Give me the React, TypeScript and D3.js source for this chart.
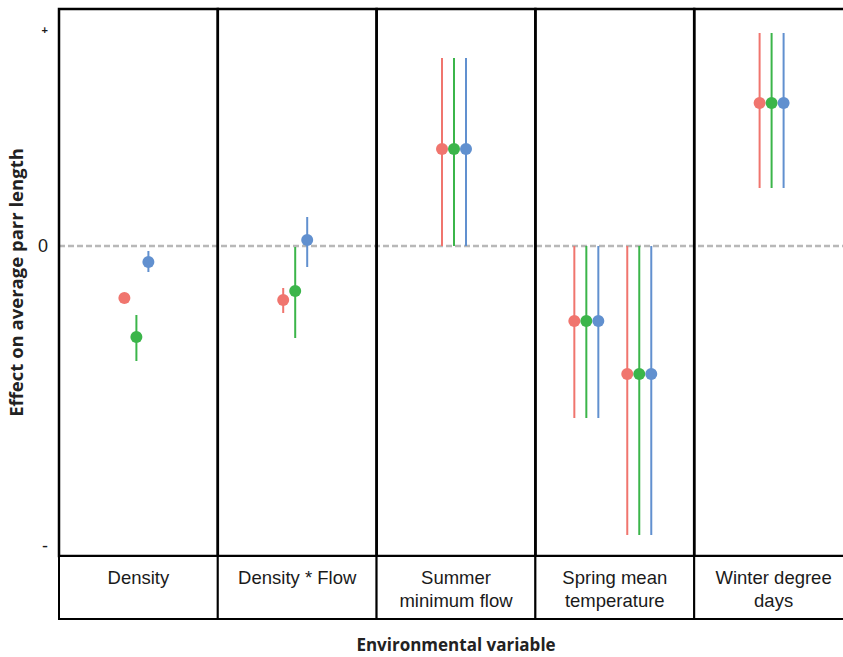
import * as d3 from 'd3';
import {useEffect, useRef} from "react";

// facets (strip labels) and the terms drawn in them
const panels = ["Density", "Density * Flow", "Summer\nminimum flow", "Spring mean\ntemperature", "Winter degree\ndays"];
const terms = ["Density", "Density * Flow", "Summer minimum flow", "Spring mean temperature (a)", "Spring mean temperature (b)", "Winter degree days"];
const termPanel = [0, 1, 2, 3, 3, 4];

const seriesNames = ["A", "B", "C"];
const seriesColors = ["#F0756E", "#3BB54A", "#6190CF"];

// estimates with lower / upper bounds, one value per term
const estA = [-0.52, -0.54, 0.97, -0.75, -1.28, 1.43];
const lowA = [-0.55, -0.67, 0.0, -1.72, -2.89, 0.58];
const uppA = [-0.49, -0.42, 1.88, 0.0, 0.0, 2.13];

const estB = [-0.91, -0.45, 0.97, -0.75, -1.28, 1.43];
const lowB = [-1.15, -0.92, 0.0, -1.72, -2.89, 0.58];
const uppB = [-0.69, -0.01, 1.88, 0.0, 0.0, 2.13];

const estC = [-0.16, 0.06, 0.97, -0.75, -1.28, 1.43];
const lowC = [-0.26, -0.21, 0.0, -1.72, -2.89, 0.58];
const uppC = [-0.05, 0.29, 1.88, 0.0, 0.0, 2.13];

const yTickValues = [2.15, 0, -3.0];
const yTickLabels = ["+", "0", "-"];

export default function App() {
    const svgRef = useRef<SVGSVGElement>(null);

    const width = 843;
    const height = 657;
    const margin = {top: 9, left: 59, right: 853, plotBottom: 556, stripBottom: 619};

    useEffect(() => {
        const svg = d3.select(svgRef.current)
            .attr('width', width)
            .attr('height', height);

        svg.selectAll("*").remove();

        const est = [estA, estB, estC];
        const low = [lowA, lowB, lowC];
        const upp = [uppA, uppB, uppC];

        const rows: any[] = [];
        seriesNames.forEach((s, si) => {
            terms.forEach((t, ti) => {
                rows.push({series: s, si, term: t, panel: termPanel[ti], est: est[si][ti], low: low[si][ti], upp: upp[si][ti]});
            });
        });

        const panelScale = d3.scaleBand<number>()
            .domain(panels.map((p, i) => i))
            .range([margin.left, margin.right])
            .padding(0);

        const yScale = d3.scaleLinear()
            .domain([-3.10, 2.37])
            .range([margin.plotBottom, margin.top]);

        const dodge = d3.scaleBand()
            .domain(seriesNames)
            .range([-20, 16]);

        // x position inside each facet (free x scale per panel)
        const innerScales = panels.map((p, i) => d3.scalePoint()
            .domain(terms.filter((t, ti) => termPanel[ti] === i))
            .range([panelScale(i)!, panelScale(i)! + panelScale.bandwidth()])
            .padding(1));

        const xOf = (d: any) => innerScales[d.panel](d.term)! + dodge(d.series)! + dodge.bandwidth() / 2;

        // zero reference line
        svg.append("line")
            .attr("x1", margin.left)
            .attr("x2", width)
            .attr("y1", yScale(0))
            .attr("y2", yScale(0))
            .attr("stroke", "#b8b8b8")
            .attr("stroke-width", 2.5)
            .attr("stroke-dasharray", "6,3");

        const g = svg.append("g");

        g.selectAll(".err")
            .data(rows)
            .enter().append("line")
            .classed("err", true)
            .attr("x1", xOf)
            .attr("x2", xOf)
            .attr("y1", d => yScale(d.low))
            .attr("y2", d => yScale(d.upp))
            .attr("stroke", d => seriesColors[d.si])
            .attr("stroke-width", 2);

        g.selectAll(".pt")
            .data(rows)
            .enter().append("circle")
            .classed("pt", true)
            .attr("cx", xOf)
            .attr("cy", d => yScale(d.est))
            .attr("r", 6)
            .attr("fill", d => seriesColors[d.si]);

        // panel borders
        svg.selectAll(".panel")
            .data(panels)
            .enter().append("rect")
            .classed("panel", true)
            .attr("x", (d, i) => panelScale(i)!)
            .attr("y", margin.top)
            .attr("width", panelScale.bandwidth())
            .attr("height", margin.plotBottom - margin.top)
            .attr("fill", "none")
            .attr("stroke", "#000")
            .attr("stroke-width", 2.5);

        // strips under the panels
        const strip = svg.selectAll(".strip")
            .data(panels)
            .enter().append("g")
            .classed("strip", true)
            .attr("transform", (d, i) => `translate(${panelScale(i)},${margin.plotBottom})`);

        strip.append("rect")
            .attr("width", panelScale.bandwidth())
            .attr("height", margin.stripBottom - margin.plotBottom)
            .attr("fill", "#fff")
            .attr("stroke", "#000")
            .attr("stroke-width", 2);

        strip.each(function (d) {
            const lines = d.split("\n");
            const t = d3.select(this).append("text")
                .attr("text-anchor", "middle")
                .attr("font-family", "Liberation Sans, Arial, sans-serif")
                .attr("font-size", 18.5)
                .attr("fill", "#1a1a1a");
            lines.forEach((l, li) => {
                t.append("tspan")
                    .attr("x", panelScale.bandwidth() / 2)
                    .attr("y", 28 + li * 23)
                    .text(l);
            });
        });

        // y tick labels
        svg.selectAll(".ytick")
            .data(yTickValues)
            .enter().append("text")
            .classed("ytick", true)
            .attr("x", 48)
            .attr("y", (d, i) => yScale(d) + (yTickLabels[i] === "+" ? 3 : 6))
            .attr("text-anchor", "end")
            .attr("font-family", "Liberation Sans, Arial, sans-serif")
            .attr("font-weight", (d, i) => yTickLabels[i] === "+" ? "bold" : "normal")
            .attr("font-size", (d, i) => yTickLabels[i] === "+" ? 11 : 18)
            .attr("fill", "#1a1a1a")
            .text((d, i) => yTickLabels[i]);

        // axis titles
        svg.append("text")
            .attr("x", (margin.left + margin.right) / 2)
            .attr("y", 651)
            .attr("text-anchor", "middle")
            .attr("font-family", "Open Sans, sans-serif")
            .attr("font-weight", "bold")
            .attr("font-size", 17)
            .attr("fill", "#222")
            .text("Environmental variable");

        svg.append("text")
            .attr("transform", `translate(23,${(margin.top + margin.plotBottom) / 2}) rotate(-90)`)
            .attr("text-anchor", "middle")
            .attr("font-family", "Open Sans, sans-serif")
            .attr("font-weight", "bold")
            .attr("font-size", 18.5)
            .attr("fill", "#222")
            .text("Effect on average parr length");

        return () => {};
    }, []);

    return (<svg ref={svgRef} style={{position: "absolute", left: 0, top: 0}} viewBox="0 0 843 657"></svg>);
}
